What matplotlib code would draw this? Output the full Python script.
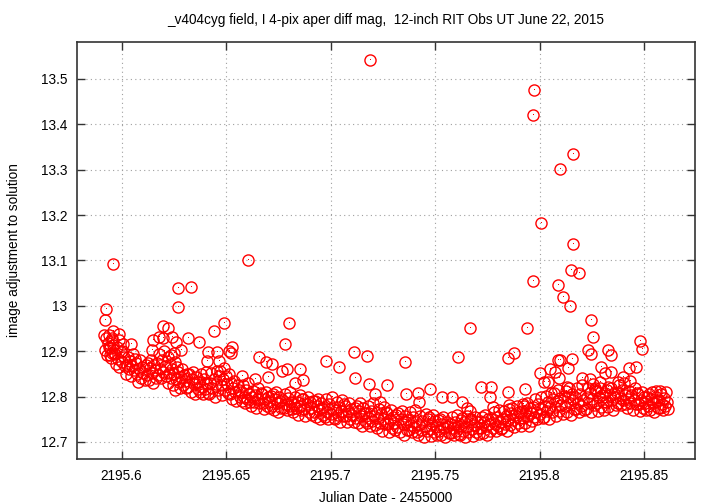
import matplotlib
matplotlib.use("Agg")
import matplotlib.pyplot as plt

plt.rcParams['font.family'] = ['Liberation Sans', 'DejaVu Sans']

title = "_v404cyg field, I 4-pix aper diff mag,  12-inch RIT Obs UT June 22, 2015"
xlabel = "Julian Date - 2455000"
ylabel = "image adjustment to solution"

xticks = [2195.6, 2195.65, 2195.7, 2195.75, 2195.8, 2195.85]
xticklabels = ["2195.6", "2195.65", "2195.7", "2195.75", "2195.8", "2195.85"]
yticks = [12.7, 12.8, 12.9, 13.0, 13.1, 13.2, 13.3, 13.4, 13.5]
yticklabels = ["12.7", "12.8", "12.9", "13", "13.1", "13.2", "13.3", "13.4", "13.5"]

band_jd = [
    2195.5920, 2195.5925, 2195.5930, 2195.5935, 2195.5940, 2195.5945, 2195.5950, 2195.5955, 2195.5960, 2195.5965,
    2195.5970, 2195.5975, 2195.5980, 2195.5985, 2195.5990, 2195.5995, 2195.6000, 2195.6005, 2195.6010, 2195.6015,
    2195.6020, 2195.6025, 2195.6030, 2195.6035, 2195.6040, 2195.6045, 2195.6050, 2195.6055, 2195.6060, 2195.6065,
    2195.6070, 2195.6075, 2195.6080, 2195.6085, 2195.6090, 2195.6095, 2195.6100, 2195.6105, 2195.6110, 2195.6115,
    2195.6120, 2195.6125, 2195.6130, 2195.6135, 2195.6140, 2195.6145, 2195.6150, 2195.6155, 2195.6160, 2195.6165,
    2195.6170, 2195.6175, 2195.6180, 2195.6185, 2195.6190, 2195.6195, 2195.6200, 2195.6205, 2195.6210, 2195.6215,
    2195.6220, 2195.6225, 2195.6230, 2195.6235, 2195.6240, 2195.6245, 2195.6250, 2195.6255, 2195.6260, 2195.6265,
    2195.6270, 2195.6275, 2195.6280, 2195.6285, 2195.6290, 2195.6295, 2195.6300, 2195.6305, 2195.6310, 2195.6315,
    2195.6320, 2195.6325, 2195.6330, 2195.6335, 2195.6340, 2195.6345, 2195.6350, 2195.6355, 2195.6360, 2195.6365,
    2195.6370, 2195.6375, 2195.6380, 2195.6385, 2195.6390, 2195.6395, 2195.6400, 2195.6405, 2195.6410, 2195.6415,
    2195.6420, 2195.6425, 2195.6430, 2195.6435, 2195.6440, 2195.6445, 2195.6450, 2195.6455, 2195.6460, 2195.6465,
    2195.6470, 2195.6475, 2195.6480, 2195.6485, 2195.6490, 2195.6495, 2195.6500, 2195.6505, 2195.6510, 2195.6515,
    2195.6520, 2195.6525, 2195.6530, 2195.6535, 2195.6540, 2195.6545, 2195.6550, 2195.6555, 2195.6560, 2195.6565,
    2195.6570, 2195.6575, 2195.6580, 2195.6585, 2195.6590, 2195.6595, 2195.6600, 2195.6605, 2195.6610, 2195.6615,
    2195.6620, 2195.6625, 2195.6630, 2195.6635, 2195.6640, 2195.6645, 2195.6650, 2195.6655, 2195.6660, 2195.6665,
    2195.6670, 2195.6675, 2195.6680, 2195.6685, 2195.6690, 2195.6695, 2195.6700, 2195.6705, 2195.6710, 2195.6715,
    2195.6720, 2195.6725, 2195.6730, 2195.6735, 2195.6740, 2195.6745, 2195.6750, 2195.6755, 2195.6760, 2195.6765,
    2195.6770, 2195.6775, 2195.6780, 2195.6785, 2195.6790, 2195.6795, 2195.6800, 2195.6805, 2195.6810, 2195.6815,
    2195.6820, 2195.6825, 2195.6830, 2195.6835, 2195.6840, 2195.6845, 2195.6850, 2195.6855, 2195.6860, 2195.6865,
    2195.6870, 2195.6875, 2195.6880, 2195.6885, 2195.6890, 2195.6895, 2195.6900, 2195.6905, 2195.6910, 2195.6915,
    2195.6920, 2195.6925, 2195.6930, 2195.6935, 2195.6940, 2195.6945, 2195.6950, 2195.6955, 2195.6960, 2195.6965,
    2195.6970, 2195.6975, 2195.6980, 2195.6985, 2195.6990, 2195.6995, 2195.7000, 2195.7005, 2195.7010, 2195.7015,
    2195.7020, 2195.7025, 2195.7030, 2195.7035, 2195.7040, 2195.7045, 2195.7050, 2195.7055, 2195.7060, 2195.7065,
    2195.7070, 2195.7075, 2195.7080, 2195.7085, 2195.7090, 2195.7095, 2195.7100, 2195.7105, 2195.7110, 2195.7115,
    2195.7120, 2195.7125, 2195.7130, 2195.7135, 2195.7140, 2195.7145, 2195.7150, 2195.7155, 2195.7160, 2195.7165,
    2195.7170, 2195.7175, 2195.7180, 2195.7185, 2195.7190, 2195.7195, 2195.7200, 2195.7205, 2195.7210, 2195.7215,
    2195.7220, 2195.7225, 2195.7230, 2195.7235, 2195.7240, 2195.7245, 2195.7250, 2195.7255, 2195.7260, 2195.7265,
    2195.7270, 2195.7275, 2195.7280, 2195.7285, 2195.7290, 2195.7295, 2195.7300, 2195.7305, 2195.7310, 2195.7315,
    2195.7320, 2195.7325, 2195.7330, 2195.7335, 2195.7340, 2195.7345, 2195.7350, 2195.7355, 2195.7360, 2195.7365,
    2195.7370, 2195.7375, 2195.7380, 2195.7385, 2195.7390, 2195.7395, 2195.7400, 2195.7405, 2195.7410, 2195.7415,
    2195.7420, 2195.7425, 2195.7430, 2195.7435, 2195.7440, 2195.7445, 2195.7450, 2195.7455, 2195.7460, 2195.7465,
    2195.7470, 2195.7475, 2195.7480, 2195.7485, 2195.7490, 2195.7495, 2195.7500, 2195.7505, 2195.7510, 2195.7515,
    2195.7520, 2195.7525, 2195.7530, 2195.7535, 2195.7540, 2195.7545, 2195.7550, 2195.7555, 2195.7560, 2195.7565,
    2195.7570, 2195.7575, 2195.7580, 2195.7585, 2195.7590, 2195.7595, 2195.7600, 2195.7605, 2195.7610, 2195.7615,
    2195.7620, 2195.7625, 2195.7630, 2195.7635, 2195.7640, 2195.7645, 2195.7650, 2195.7655, 2195.7660, 2195.7665,
    2195.7670, 2195.7675, 2195.7680, 2195.7685, 2195.7690, 2195.7695, 2195.7700, 2195.7705, 2195.7710, 2195.7715,
    2195.7720, 2195.7725, 2195.7730, 2195.7735, 2195.7740, 2195.7745, 2195.7750, 2195.7755, 2195.7760, 2195.7765,
    2195.7770, 2195.7775, 2195.7780, 2195.7785, 2195.7790, 2195.7795, 2195.7800, 2195.7805, 2195.7810, 2195.7815,
    2195.7820, 2195.7825, 2195.7830, 2195.7835, 2195.7840, 2195.7845, 2195.7850, 2195.7855, 2195.7860, 2195.7865,
    2195.7870, 2195.7875, 2195.7880, 2195.7885, 2195.7890, 2195.7895, 2195.7900, 2195.7905, 2195.7910, 2195.7915,
    2195.7920, 2195.7925, 2195.7930, 2195.7935, 2195.7940, 2195.7945, 2195.7950, 2195.7955, 2195.7960, 2195.7965,
    2195.7970, 2195.7975, 2195.7980, 2195.7985, 2195.7990, 2195.7995, 2195.8000, 2195.8005, 2195.8010, 2195.8015,
    2195.8020, 2195.8025, 2195.8030, 2195.8035, 2195.8040, 2195.8045, 2195.8050, 2195.8055, 2195.8060, 2195.8065,
    2195.8070, 2195.8075, 2195.8080, 2195.8085, 2195.8090, 2195.8095, 2195.8100, 2195.8105, 2195.8110, 2195.8115,
    2195.8120, 2195.8125, 2195.8130, 2195.8135, 2195.8140, 2195.8145, 2195.8150, 2195.8155, 2195.8160, 2195.8165,
    2195.8170, 2195.8175, 2195.8180, 2195.8185, 2195.8190, 2195.8195, 2195.8200, 2195.8205, 2195.8210, 2195.8215,
    2195.8220, 2195.8225, 2195.8230, 2195.8235, 2195.8240, 2195.8245, 2195.8250, 2195.8255, 2195.8260, 2195.8265,
    2195.8270, 2195.8275, 2195.8280, 2195.8285, 2195.8290, 2195.8295, 2195.8300, 2195.8305, 2195.8310, 2195.8315,
    2195.8320, 2195.8325, 2195.8330, 2195.8335, 2195.8340, 2195.8345, 2195.8350, 2195.8355, 2195.8360, 2195.8365,
    2195.8370, 2195.8375, 2195.8380, 2195.8385, 2195.8390, 2195.8395, 2195.8400, 2195.8405, 2195.8410, 2195.8415,
    2195.8420, 2195.8425, 2195.8430, 2195.8435, 2195.8440, 2195.8445, 2195.8450, 2195.8455, 2195.8460, 2195.8465,
    2195.8470, 2195.8475, 2195.8480, 2195.8485, 2195.8490, 2195.8495, 2195.8500, 2195.8505, 2195.8510, 2195.8515,
    2195.8520, 2195.8525, 2195.8530, 2195.8535, 2195.8540, 2195.8545, 2195.8550, 2195.8555, 2195.8560, 2195.8565,
    2195.8570, 2195.8575, 2195.8580, 2195.8585, 2195.8590, 2195.8595, 2195.8600, 2195.8605, 2195.8610, 2195.8615,
]
band_mag = [
    12.902, 12.929, 12.891, 12.918, 12.935, 12.907, 12.885, 12.924, 12.913, 12.896,
    12.893, 12.871, 12.910, 12.882, 12.866, 12.899, 12.877, 12.915, 12.888, 12.868,
    12.850, 12.870, 12.888, 12.860, 12.878, 12.845, 12.868, 12.893, 12.858, 12.883,
    12.874, 12.849, 12.833, 12.860, 12.880, 12.841, 12.866, 12.852, 12.836, 12.869,
    12.847, 12.874, 12.836, 12.863, 12.880, 12.852, 12.830, 12.869, 12.858, 12.841,
    12.874, 12.848, 12.894, 12.861, 12.842, 12.881, 12.855, 12.900, 12.868, 12.845,
    12.831, 12.853, 12.872, 12.842, 12.861, 12.825, 12.850, 12.877, 12.839, 12.866,
    12.855, 12.833, 12.818, 12.843, 12.860, 12.825, 12.848, 12.835, 12.820, 12.850,
    12.822, 12.849, 12.811, 12.838, 12.855, 12.827, 12.805, 12.844, 12.833, 12.816,
    12.833, 12.811, 12.850, 12.822, 12.806, 12.839, 12.817, 12.855, 12.828, 12.808,
    12.806, 12.830, 12.851, 12.818, 12.839, 12.800, 12.827, 12.857, 12.815, 12.845,
    12.856, 12.825, 12.804, 12.839, 12.863, 12.814, 12.846, 12.828, 12.807, 12.849,
    12.805, 12.830, 12.795, 12.820, 12.835, 12.810, 12.790, 12.825, 12.815, 12.800,
    12.810, 12.790, 12.825, 12.800, 12.785, 12.815, 12.795, 12.830, 12.805, 12.788,
    12.780, 12.798, 12.813, 12.789, 12.804, 12.775, 12.795, 12.818, 12.786, 12.809,
    12.806, 12.786, 12.772, 12.795, 12.811, 12.779, 12.799, 12.788, 12.775, 12.802,
    12.780, 12.805, 12.770, 12.795, 12.810, 12.785, 12.765, 12.800, 12.790, 12.775,
    12.792, 12.774, 12.806, 12.783, 12.770, 12.797, 12.779, 12.810, 12.788, 12.772,
    12.765, 12.783, 12.798, 12.774, 12.789, 12.760, 12.780, 12.803, 12.771, 12.794,
    12.795, 12.773, 12.758, 12.783, 12.800, 12.765, 12.788, 12.775, 12.760, 12.790,
    12.765, 12.790, 12.755, 12.780, 12.795, 12.770, 12.750, 12.785, 12.775, 12.760,
    12.778, 12.756, 12.795, 12.767, 12.751, 12.784, 12.762, 12.800, 12.773, 12.753,
    12.750, 12.770, 12.788, 12.760, 12.778, 12.745, 12.768, 12.793, 12.758, 12.783,
    12.780, 12.758, 12.743, 12.768, 12.785, 12.750, 12.773, 12.760, 12.745, 12.775,
    12.752, 12.779, 12.741, 12.768, 12.785, 12.757, 12.735, 12.774, 12.763, 12.746,
    12.763, 12.741, 12.780, 12.752, 12.736, 12.769, 12.747, 12.785, 12.758, 12.738,
    12.731, 12.753, 12.772, 12.742, 12.761, 12.725, 12.750, 12.777, 12.739, 12.766,
    12.764, 12.739, 12.723, 12.750, 12.770, 12.731, 12.756, 12.742, 12.726, 12.759,
    12.733, 12.763, 12.721, 12.751, 12.769, 12.739, 12.715, 12.757, 12.745, 12.727,
    12.748, 12.726, 12.765, 12.737, 12.721, 12.754, 12.732, 12.770, 12.743, 12.723,
    12.716, 12.738, 12.757, 12.727, 12.746, 12.710, 12.735, 12.762, 12.724, 12.751,
    12.754, 12.729, 12.713, 12.740, 12.760, 12.721, 12.746, 12.732, 12.716, 12.749,
    12.725, 12.750, 12.715, 12.740, 12.755, 12.730, 12.710, 12.745, 12.735, 12.720,
    12.740, 12.720, 12.755, 12.730, 12.715, 12.745, 12.725, 12.760, 12.735, 12.718,
    12.715, 12.735, 12.753, 12.725, 12.743, 12.710, 12.733, 12.758, 12.723, 12.748,
    12.750, 12.729, 12.714, 12.738, 12.755, 12.722, 12.743, 12.731, 12.717, 12.746,
    12.730, 12.755, 12.720, 12.745, 12.760, 12.735, 12.715, 12.750, 12.740, 12.725,
    12.750, 12.730, 12.765, 12.740, 12.725, 12.755, 12.735, 12.770, 12.745, 12.728,
    12.730, 12.750, 12.768, 12.740, 12.758, 12.725, 12.748, 12.773, 12.738, 12.763,
    12.774, 12.749, 12.733, 12.760, 12.780, 12.741, 12.766, 12.752, 12.736, 12.769,
    12.752, 12.779, 12.741, 12.768, 12.785, 12.757, 12.735, 12.774, 12.763, 12.746,
    12.778, 12.756, 12.795, 12.767, 12.751, 12.784, 12.762, 12.800, 12.773, 12.753,
    12.756, 12.780, 12.801, 12.768, 12.789, 12.750, 12.777, 12.807, 12.765, 12.795,
    12.807, 12.778, 12.758, 12.791, 12.814, 12.768, 12.797, 12.781, 12.762, 12.801,
    12.780, 12.812, 12.767, 12.799, 12.819, 12.786, 12.760, 12.806, 12.793, 12.773,
    12.799, 12.773, 12.819, 12.786, 12.767, 12.806, 12.780, 12.825, 12.793, 12.770,
    12.772, 12.798, 12.820, 12.785, 12.807, 12.765, 12.794, 12.827, 12.781, 12.814,
    12.813, 12.786, 12.768, 12.798, 12.819, 12.777, 12.804, 12.789, 12.771, 12.807,
    12.787, 12.814, 12.776, 12.803, 12.820, 12.792, 12.770, 12.809, 12.798, 12.781,
    12.808, 12.786, 12.825, 12.797, 12.781, 12.814, 12.792, 12.830, 12.803, 12.783,
    12.775, 12.795, 12.813, 12.785, 12.803, 12.770, 12.793, 12.818, 12.783, 12.808,
    12.805, 12.783, 12.768, 12.793, 12.810, 12.775, 12.798, 12.785, 12.770, 12.800,
    12.780, 12.805, 12.770, 12.795, 12.810, 12.785, 12.765, 12.800, 12.790, 12.775,
    12.792, 12.774, 12.806, 12.783, 12.770, 12.797, 12.779, 12.810, 12.788, 12.772,
]

# scattered points above the band
out_jd = [
    2195.5926, 2195.5920, 2195.5915, 2195.5960, 2195.5960, 2195.5988, 2195.5990, 2195.5955,
    2195.5940, 2195.6000, 2195.5955, 2195.5945, 2195.6045,
    2195.6200, 2195.6220, 2195.6180, 2195.6200, 2195.6240, 2195.6260, 2195.6285, 2195.6150,
    2195.6145, 2195.6220, 2195.6235, 2195.6250, 2195.6256,
    2195.6270, 2195.6330, 2195.6270, 2195.6320, 2195.6370,
    2195.6490, 2195.6440, 2195.6530, 2195.6514, 2195.6525, 2195.6414, 2195.6457, 2195.6410, 2195.6466,
    2195.6605,
    2195.6800, 2195.6780, 2195.6660, 2195.6690, 2195.6720, 2195.6855, 2195.6770, 2195.6790,
    2195.6830, 2195.6870, 2195.6980, 2195.6576, 2195.6640, 2195.6700,
    2195.7110, 2195.7175, 2195.7040, 2195.7355, 2195.7115, 2195.7185, 2195.7270, 2195.7475,
    2195.7360, 2195.7420, 2195.7425, 2195.7215, 2195.7235, 2195.7535,
    2195.7190,
    2195.7665, 2195.7610, 2195.7880, 2195.7580, 2195.7630, 2195.7655, 2195.7665, 2195.7720,
    2195.7770, 2195.7765, 2195.7850, 2195.7930, 2195.7775, 2195.7855, 2195.7920, 2195.7625,
    2195.7940, 2195.7975, 2195.7970, 2195.8160, 2195.8100, 2195.8007, 2195.8160, 2195.8150,
    2195.8190, 2195.7970, 2195.8090, 2195.8110, 2195.8145, 2195.8245, 2195.8255, 2195.8230,
    2195.8330, 2195.8480, 2195.8490, 2195.8155, 2195.8135, 2195.8295, 2195.8430, 2195.8460,
    2195.8100, 2195.8205, 2195.8240, 2195.8375, 2195.8400, 2195.8435, 2195.8555, 2195.8575,
    2195.8000, 2195.8050, 2195.8075, 2195.8090, 2195.8020, 2195.8040, 2195.8095, 2195.8130,
    2195.7850, 2195.8245, 2195.8340, 2195.8315, 2195.8340, 2195.8265, 2195.8290, 2195.8330,
]
out_mag = [
    12.993, 12.968, 12.936, 13.092, 12.945, 12.938, 12.925, 12.929,
    12.909, 12.900, 12.896, 12.892, 12.916,
    12.956, 12.951, 12.931, 12.929, 12.931, 12.920, 12.903, 12.925,
    12.903, 12.887, 12.892, 12.896, 12.815,
    13.039, 13.042, 12.998, 12.929, 12.920,
    12.962, 12.945, 12.909, 12.900, 12.896, 12.898, 12.898, 12.878, 12.878,
    13.102,
    12.962, 12.916, 12.887, 12.876, 12.872, 12.861, 12.857, 12.861,
    12.830, 12.837, 12.878, 12.845, 12.839, 12.843,
    12.898, 12.889, 12.865, 12.876, 12.841, 12.828, 12.826, 12.817,
    12.806, 12.808, 12.788, 12.806, 12.788, 12.800,
    13.542,
    12.951, 12.887, 12.897, 12.800, 12.789, 12.774, 12.769, 12.821,
    12.821, 12.800, 12.810, 12.817, 12.778, 12.782, 12.784, 12.748,
    12.952, 13.476, 13.421, 13.335, 13.302, 13.183, 13.136, 13.079,
    13.072, 13.055, 13.046, 13.020, 13.000, 12.968, 12.932, 12.903,
    12.903, 12.923, 12.905, 12.883, 12.863, 12.866, 12.863, 12.866,
    12.880, 12.841, 12.839, 12.832, 12.843, 12.835, 12.812, 12.812,
    12.852, 12.861, 12.855, 12.881, 12.832, 12.832, 12.841, 12.821,
    12.885, 12.894, 12.892, 12.852, 12.854, 12.820, 12.832, 12.822,
]

fig = plt.figure(figsize=(7.2, 5.04), dpi=100)
ax = fig.add_axes([0.107, 0.0893, 0.8583, 0.828])

for xs, ys in [(band_jd, band_mag), (out_jd, out_mag)]:
    ax.plot(xs, ys, 'o', mfc='none', mec='red', ms=8.0, mew=1.0, linestyle='none')
    ax.plot(xs, ys, ',', color='red', linestyle='none')

ax.set_xlim(2195.5787, 2195.8744)
ax.set_ylim(12.6625, 13.582)
ax.set_xticks(xticks)
ax.set_xticklabels(xticklabels)
ax.set_yticks(yticks)
ax.set_yticklabels(yticklabels)
ax.tick_params(direction='in', length=6, width=1, top=True, right=True,
               labelsize=9.8, pad=7, color='#333333')
ax.grid(True, linestyle=(0, (1, 3)), color='#a0a0a0', linewidth=0.8)
for sp in ax.spines.values():
    sp.set_linewidth(1.2)
    sp.set_color('#333333')

ax.set_xlabel(xlabel, fontsize=9.8, labelpad=6)
ax.set_ylabel(ylabel, fontsize=9.8, labelpad=14)
ax.set_title(title, fontsize=9.8, pad=13)

fig.savefig("out.png", dpi=100)
